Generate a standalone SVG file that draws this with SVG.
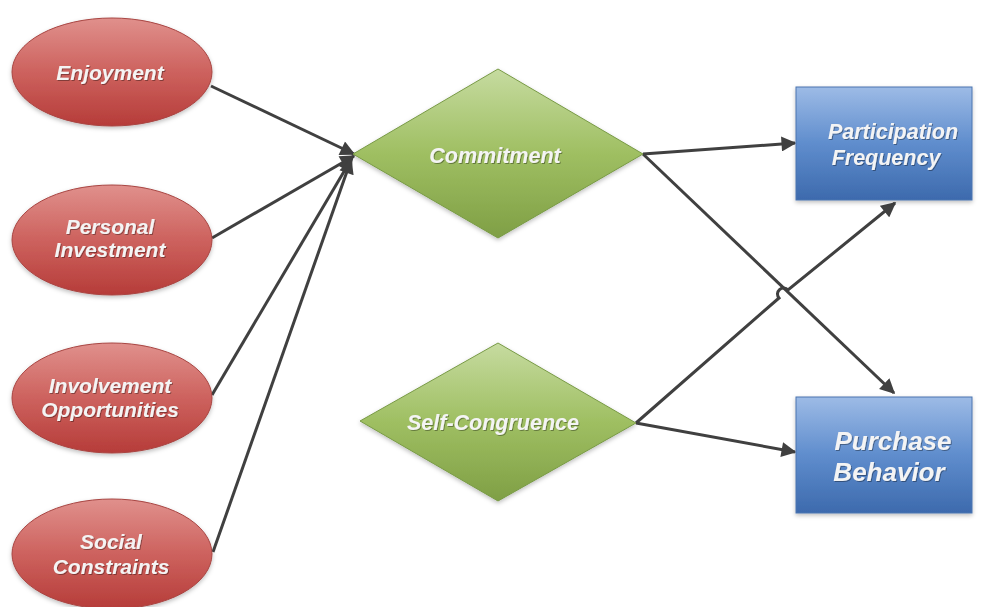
<svg xmlns="http://www.w3.org/2000/svg" width="987" height="607" viewBox="0 0 987 607">
<defs>
<linearGradient id="gRed" x1="0" y1="0" x2="0" y2="1">
<stop offset="0" stop-color="#e0908c"/><stop offset="0.5" stop-color="#cd625e"/><stop offset="1" stop-color="#b63c39"/>
</linearGradient>
<linearGradient id="gGreen" x1="0" y1="0" x2="0" y2="1">
<stop offset="0" stop-color="#c6dba0"/><stop offset="0.5" stop-color="#9fbf62"/><stop offset="1" stop-color="#7f9f45"/>
</linearGradient>
<linearGradient id="gBlue" x1="0" y1="0" x2="0" y2="1">
<stop offset="0" stop-color="#9dbbe6"/><stop offset="0.5" stop-color="#5f8dcd"/><stop offset="1" stop-color="#3d6aad"/>
</linearGradient>
<filter id="sh" x="-10%" y="-10%" width="130%" height="130%">
<feDropShadow dx="0" dy="2" stdDeviation="2" flood-color="#000" flood-opacity="0.25"/>
</filter>
<filter id="tsh" x="-5%" y="-20%" width="110%" height="140%">
<feDropShadow dx="1" dy="1" stdDeviation="0.6" flood-color="#000" flood-opacity="0.35"/>
</filter>
<marker id="ah" viewBox="0 0 10 10" refX="9" refY="5" markerWidth="5.3" markerHeight="5" orient="auto" markerUnits="strokeWidth">
<path d="M0,0 L10,5 L0,10 z" fill="#404040"/>
</marker>
<style>
.ell{fill:url(#gRed);stroke:#a84542;stroke-width:1;filter:url(#sh)}
.dia{fill:url(#gGreen);stroke:#789a45;stroke-width:1;filter:url(#sh)}
.box{fill:url(#gBlue);stroke:#4a74b0;stroke-width:1;filter:url(#sh)}
.t{font-family:"Liberation Sans",Arial,sans-serif;font-weight:bold;font-style:italic;fill:#f4f4f4;text-anchor:middle;font-size:21px;filter:url(#tsh)}
.m{font-size:21.5px}
.big{font-size:26px}
.c{stroke:#404040;stroke-width:3;fill:none;marker-end:url(#ah)}
</style>
</defs>
<rect width="987" height="607" fill="#ffffff"/>
<g id="connectors">
<line class="c" x1="211" y1="86" x2="354" y2="154"/>
<line class="c" x1="212" y1="238" x2="354" y2="156"/>
<line class="c" x1="212" y1="395" x2="352" y2="158"/>
<line class="c" x1="213" y1="552" x2="351" y2="160"/>
<line class="c" x1="643" y1="154" x2="795" y2="143"/>
<line class="c" x1="643" y1="154" x2="894" y2="393"/>
<path class="c" d="M636,423 L779,298 A6,6 0 0 1 788,290 L895,203"/>
<line class="c" x1="636" y1="423" x2="795" y2="452"/>
</g>
<g id="enjoyment">
<ellipse class="ell" cx="112" cy="72" rx="100" ry="54"/>
<text class="t" x="110" y="80">Enjoyment</text>
</g>
<g id="personal-investment">
<ellipse class="ell" cx="112" cy="240" rx="100" ry="55"/>
<text class="t" x="110" y="234">Personal</text>
<text class="t" x="110" y="257">Investment</text>
</g>
<g id="involvement-opportunities">
<ellipse class="ell" cx="112" cy="398" rx="100" ry="55"/>
<text class="t" x="110" y="393">Involvement</text>
<text class="t" x="110" y="417">Opportunities</text>
</g>
<g id="social-constraints">
<ellipse class="ell" cx="112" cy="554" rx="100" ry="55"/>
<text class="t" x="111" y="549">Social</text>
<text class="t" x="111" y="574">Constraints</text>
</g>
<g id="commitment">
<polygon class="dia" points="498,69 643,154 498,238 353,154"/>
<text class="t m" x="495" y="163">Commitment</text>
</g>
<g id="self-congruence">
<polygon class="dia" points="498,343 636,423 498,501 360,421"/>
<text class="t m" x="493" y="430">Self-Congruence</text>
</g>
<g id="participation-frequency">
<rect class="box" x="796" y="87" width="176" height="113"/>
<text class="t m" x="893" y="139">Participation</text>
<text class="t m" x="886" y="165">Frequency</text>
</g>
<g id="purchase-behavior">
<rect class="box" x="796" y="397" width="176" height="116"/>
<text class="t big" x="893" y="450">Purchase</text>
<text class="t big" x="889" y="481">Behavior</text>
</g>
</svg>
